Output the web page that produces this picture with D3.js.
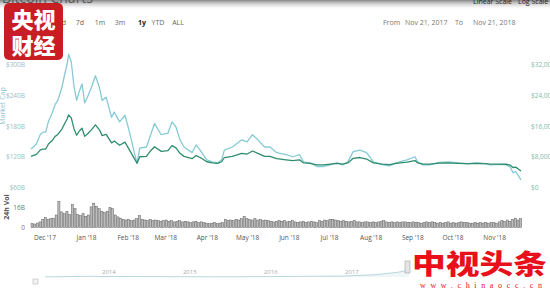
<!DOCTYPE html>
<html>
<head>
<meta charset="utf-8">
<script src="https://cdn.jsdelivr.net/npm/d3@7"></script>
<style>
body { margin: 0; background: #fff; }
svg { display: block; font-family: "Open Sans", "Noto Sans", sans-serif; }
</style>
</head>
<body>
<svg id="chart" width="550" height="291"></svg>
<script>
// price (USD) and market cap (billions)
var dates = ["2017-11-21","2017-11-25","2017-11-28","2017-11-30","2017-12-02","2017-12-04","2017-12-07","2017-12-09",
  "2017-12-11","2017-12-14","2017-12-16","2017-12-18","2017-12-19","2017-12-21","2017-12-23","2017-12-25","2017-12-27",
  "2017-12-29","2017-12-31","2018-01-02","2018-01-05","2018-01-08","2018-01-11","2018-01-13","2018-01-16","2018-01-20",
  "2018-01-22","2018-01-26","2018-01-30","2018-02-02","2018-02-06","2018-02-08","2018-02-10","2018-02-15","2018-02-18",
  "2018-02-21","2018-02-26","2018-03-03","2018-03-06","2018-03-09","2018-03-12","2018-03-15","2018-03-21","2018-03-24",
  "2018-03-27","2018-04-01","2018-04-05","2018-04-09","2018-04-12","2018-04-14","2018-04-20","2018-04-27","2018-05-01",
  "2018-05-05","2018-05-09","2018-05-14","2018-05-18","2018-05-23","2018-05-30","2018-06-04","2018-06-09","2018-06-12",
  "2018-06-17","2018-06-22","2018-06-27","2018-07-02","2018-07-07","2018-07-11","2018-07-15","2018-07-19","2018-07-24",
  "2018-07-29","2018-08-03","2018-08-10","2018-08-15","2018-08-20","2018-08-28","2018-09-03","2018-09-05","2018-09-09",
  "2018-09-14","2018-09-21","2018-09-28","2018-10-05","2018-10-12","2018-10-19","2018-10-26","2018-10-29","2018-11-05",
  "2018-11-10","2018-11-13","2018-11-15","2018-11-17","2018-11-19","2018-11-21"];
var price = [8100,8600,9800,10000,10000,11300,12300,13300,
  13800,15200,16600,17900,18900,18100,15300,13600,14700,
  15400,13300,13900,15000,16300,15000,13500,13800,11600,
  12100,11000,11800,10000,7500,6300,8000,8100,9500,
  10600,9400,9600,10900,10300,8900,8100,7500,8300,
  7800,6700,6400,6300,6700,7800,8100,8900,8700,
  9500,8900,8100,8100,7500,7200,7000,7200,6400,
  6300,5900,5900,6100,6300,6100,6400,7600,7800,
  7400,6400,6100,5950,6300,6600,7000,6400,6100,
  6100,6350,6400,6300,6200,6300,6200,6100,6100,
  6050,5800,5200,5300,4800,4300];
var marketCap = [135,145,164,168,168,189,207,222,
  230,255,280,302,320,305,258,230,248,
  262,225,236,255,278,255,230,236,197,
  207,188,201,172,128,107,137,139,162,
  185,163,166,188,178,153,139,128,143,
  133,114,110,108,114,133,139,153,149,
  163,153,139,139,128,124,120,124,110,
  108,101,101,104,108,104,110,130,133,
  128,110,104,102,108,114,120,110,104,
  104,109,110,108,106,108,106,104,105,
  104,100,89,91,83,75];

// 24h volume (billions), one value every 2 days from volStart
var volStart = "2017-11-21";
var volume = [3.0,2.8,3.6,4.5,6.5, 8.0,6.5,7.0,7.5,10.0, 21.0, 12.5,11.0,13.0,10.5, 18.5,15.0,
  10.5,9.5,11.0,9.0,10.0, 16.5,19.5,17.0,15.0, 13.0,12.0,13.0, 16.0,15.0, 10.0,8.5,7.5,
  6.5,6.0,6.5,5.5,6.0,7.0, 9.5, 6.5,6.0,5.5,6.5,5.5,6.0, 5.5,5.0,5.5,6.0,5.0,5.5,4.5,5.0,5.5,
  4.5,5.0,4.5,4.0,4.5,5.0,4.0,4.5, 4.0,3.5,3.0,3.5,4.0,3.0,3.5, 3.8,6.5,5.5, 6.0,5.5,6.5,6.0,7.0,
  9.0, 7.0,6.5,6.0,7.0,6.0,6.5,5.5,6.0,5.5, 5.0,4.5,5.0,
  5.5,5.0,5.5,4.5,5.0,5.5,4.5,4.0,4.5,5.0,
  4.0,4.5,5.0,4.5,4.0,5.5,5.0,6.0,5.5,6.5,
  6.5,6.0,5.5,5.0,5.5,5.0,4.5,5.0,5.5,4.5,
  4.5,4.0,4.5,4.5,4.0,4.5,4.0,4.5,5.0,5.5,
  4.5,4.0,4.5,4.0,4.5,4.0,4.5,4.5,4.0,4.0,
  4.5,4.0,4.0,3.5,4.0,4.5,4.0,4.5,4.0,3.5,
  4.0,3.5,4.0,4.5,3.5,4.0,3.5,4.0,4.5,4.0,
  4.0,3.5,3.5,4.0,3.5,4.0,3.5,4.0,3.5,4.0,
  4.0,3.5,4.5,5.5,5.0,6.0,5.0,6.5,7.5,6.0,7.2];

var capTicks = [60, 120, 180, 240, 300];
var priceTicks = [0, 8000, 16000, 24000, 32000];
var volTicks = [0, 16];

// navigator: whole history of market cap (billions)
var navDates = ["2013-04-28","2013-11-30","2014-01-01","2014-06-01","2015-01-01","2015-06-01","2016-01-01",
  "2016-06-15","2017-01-01","2017-05-25","2017-09-01","2017-11-21","2017-12-17","2018-02-06","2018-05-05","2018-11-21"];
var navCap = [1.5, 13, 9.5, 8, 4.3, 3.2, 6.5, 11, 16, 40, 80, 135, 320, 110, 165, 80];
var navYears = ["2014", "2015", "2016", "2017"];

var rangeButtons = ["1d", "7d", "1m", "3m", "1y", "YTD", "ALL"];

var parse = d3.timeParse("%Y-%m-%d");
var svg = d3.select("#chart");

// top shadow of the photographed screen
var defs = svg.append("defs");
var grad = defs.append("linearGradient").attr("id", "topshade").attr("x1", 0).attr("y1", 0).attr("x2", 0).attr("y2", 1);
grad.append("stop").attr("offset", "0%").attr("stop-color", "#666").attr("stop-opacity", 0.8);
grad.append("stop").attr("offset", "100%").attr("stop-color", "#fff").attr("stop-opacity", 0);
svg.append("rect").attr("x", 0).attr("y", 0).attr("width", 550).attr("height", 10).attr("fill", "url(#topshade)");

svg.append("text").attr("x", 2).attr("y", 3).attr("font-size", 14).attr("fill", "#555").text("Bitcoin Charts");
svg.append("text").attr("x", 473).attr("y", 4).attr("font-size", 7).attr("fill", "#222").text("Linear Scale");
svg.append("text").attr("x", 518).attr("y", 4).attr("font-size", 7).attr("fill", "#222").text("Log Scale");

// zoom buttons
var btnX = [62, 80, 100, 120, 142, 158, 178];
svg.selectAll(".btn").data(rangeButtons).enter().append("text")
  .attr("class", "btn")
  .attr("x", (d, i) => btnX[i])
  .attr("y", 25)
  .attr("text-anchor", "middle")
  .attr("font-size", 7)
  .attr("font-weight", d => d == "1y" ? "bold" : "normal")
  .attr("fill", d => d == "1y" ? "#222" : "#666")
  .text(d => d);

svg.append("text").attr("x", 383).attr("y", 25).attr("font-size", 7).attr("fill", "#777").text("From");
svg.append("text").attr("x", 405).attr("y", 25).attr("font-size", 7).attr("fill", "#777").text("Nov 21, 2017");
svg.append("text").attr("x", 455).attr("y", 25).attr("font-size", 7).attr("fill", "#777").text("To");
svg.append("text").attr("x", 473).attr("y", 25).attr("font-size", 7).attr("fill", "#777").text("Nov 21, 2018");

// scales
var x = d3.scaleTime().domain([parse("2017-11-21"), parse("2018-11-21")]).range([31, 521]);
var yCap = d3.scaleLinear().domain([60, 300]).range([187.5, 64.5]);
var yPrice = d3.scaleLinear().domain([0, 32000]).range([187.5, 64.5]);
var yVol = d3.scaleLinear().domain([0, 16]).range([227.5, 207.5]);

var rows = dates.map((d, i) => ({ date: parse(d), price: price[i], cap: marketCap[i] }));

// axes
var capAxis = svg.append("g").attr("transform", "translate(28,0)")
  .call(d3.axisLeft(yCap).tickValues(capTicks).tickSize(0).tickFormat(d => "$" + d + "B"));
capAxis.select(".domain").remove();
capAxis.selectAll("text").attr("font-size", 6.5).attr("fill", "#9fb8c4").attr("font-family", "Open Sans");

var priceAxis = svg.append("g").attr("transform", "translate(528,0)")
  .call(d3.axisRight(yPrice).tickValues(priceTicks).tickSize(0).tickFormat(d => "$" + d3.format(",")(d)));
priceAxis.select(".domain").remove();
priceAxis.selectAll("text").attr("font-size", 6.5).attr("fill", "#7fb9a5").attr("font-family", "Open Sans");

var volAxis = svg.append("g").attr("transform", "translate(28,0)")
  .call(d3.axisLeft(yVol).tickValues(volTicks).tickSize(0).tickFormat(d => d ? d + "B" : "0"));
volAxis.select(".domain").remove();
volAxis.selectAll("text").attr("font-size", 6.5).attr("fill", "#777").attr("font-family", "Open Sans");

svg.append("text").attr("transform", "translate(5,106) rotate(-90)").attr("text-anchor", "middle")
  .attr("font-size", 7).attr("fill", "#8cc4d4").text("Market Cap");
svg.append("text").attr("transform", "translate(9,207) rotate(-90)").attr("text-anchor", "middle")
  .attr("font-size", 7).attr("font-weight", "bold").attr("fill", "#555").text("24h Vol");

var xAxis = svg.append("g").attr("transform", "translate(0,232)")
  .call(d3.axisBottom(x).ticks(d3.timeMonth.every(1)).tickSize(0).tickFormat(d3.timeFormat("%b '%y")));
xAxis.select(".domain").remove();
xAxis.selectAll("text").attr("font-size", 6.5).attr("fill", "#555").attr("font-family", "Open Sans");

// volume bars
var v0 = parse(volStart);
var volRows = volume.map((v, i) => ({ date: d3.timeDay.offset(v0, 2 * i), v: v }));
var barW = x(d3.timeDay.offset(v0, 2)) - x(v0);
svg.append("g").selectAll("rect").data(volRows).enter().append("rect")
  .attr("x", d => x(d.date))
  .attr("y", d => yVol(d.v))
  .attr("width", barW - 0.6)
  .attr("height", d => yVol(0) - yVol(d.v))
  .attr("fill", "#bdbdbd")
  .attr("stroke", "#555")
  .attr("stroke-width", 0.45);

// lines
var capLine = d3.line().x(d => x(d.date)).y(d => yCap(d.cap));
var priceLine = d3.line().x(d => x(d.date)).y(d => yPrice(d.price));
svg.append("path").datum(rows).attr("d", capLine)
  .attr("fill", "none").attr("stroke", "#86cad6").attr("stroke-width", 1.3).attr("stroke-linejoin", "round");
svg.append("path").datum(rows).attr("d", priceLine)
  .attr("fill", "none").attr("stroke", "#2e8d6c").attr("stroke-width", 1.3).attr("stroke-linejoin", "round");

// navigator
var nx = d3.scaleTime().domain([parse("2014-01-01"), parse("2017-01-01")]).range([100, 343]);
var ny = d3.scaleLinear().domain([0, 330]).range([277, 258]);
var navRows = navDates.map((d, i) => ({ date: parse(d), v: navCap[i] }));
svg.append("path").datum(navRows)
  .attr("d", d3.area().x(d => nx(d.date)).y0(277).y1(d => ny(d.v)))
  .attr("fill", "#eef6f8");
svg.append("path").datum(navRows)
  .attr("d", d3.line().x(d => nx(d.date)).y(d => ny(d.v)))
  .attr("fill", "none").attr("stroke", "#a6cdd6").attr("stroke-width", 0.8);
svg.selectAll(".yr").data(navYears).enter().append("text")
  .attr("class", "yr")
  .attr("x", d => nx(parse(d + "-01-01")) + 2)
  .attr("y", 274)
  .attr("font-size", 6)
  .attr("fill", "#aaa")
  .text(d => d);
svg.append("rect").attr("x", 33).attr("y", 279).attr("width", 5).attr("height", 5)
  .attr("fill", "#f4f4f4").attr("stroke", "#aaa").attr("stroke-width", 0.5);

// watermark bottom right
svg.append("rect").attr("x", 409).attr("y", 247).attr("width", 141).attr("height", 44).attr("fill", "#fff");
svg.append("rect").attr("x", 405).attr("y", 261).attr("width", 5).attr("height", 12)
  .attr("fill", "#e4e4e4").attr("stroke", "#999").attr("stroke-width", 0.5);
svg.append("text").attr("x", 412).attr("y", 274).attr("font-size", 27).attr("font-weight", 900)
  .attr("font-family", "Noto Sans CJK SC").attr("fill", "#e8101a")
  .attr("textLength", 135).attr("lengthAdjust", "spacingAndGlyphs").text("中视头条");
svg.append("text").attr("x", 420).attr("y", 288).attr("font-size", 8)
  .attr("font-family", "Liberation Serif").attr("fill", "#e8101a")
  .attr("textLength", 122).text("www.chinaocc.cn");

// logo top left
svg.append("rect").attr("x", 4).attr("y", 3).attr("width", 59).attr("height", 57).attr("rx", 5)
  .attr("fill", "#c81d23");
svg.append("text").attr("x", 33.5).attr("y", 28).attr("text-anchor", "middle").attr("font-size", 22)
  .attr("font-weight", 900).attr("font-family", "Noto Sans CJK SC").attr("fill", "#fff").text("央视");
svg.append("text").attr("x", 33.5).attr("y", 54).attr("text-anchor", "middle").attr("font-size", 22)
  .attr("font-weight", 900).attr("font-family", "Noto Sans CJK SC").attr("fill", "#fff").text("财经");
</script>
</body>
</html>
